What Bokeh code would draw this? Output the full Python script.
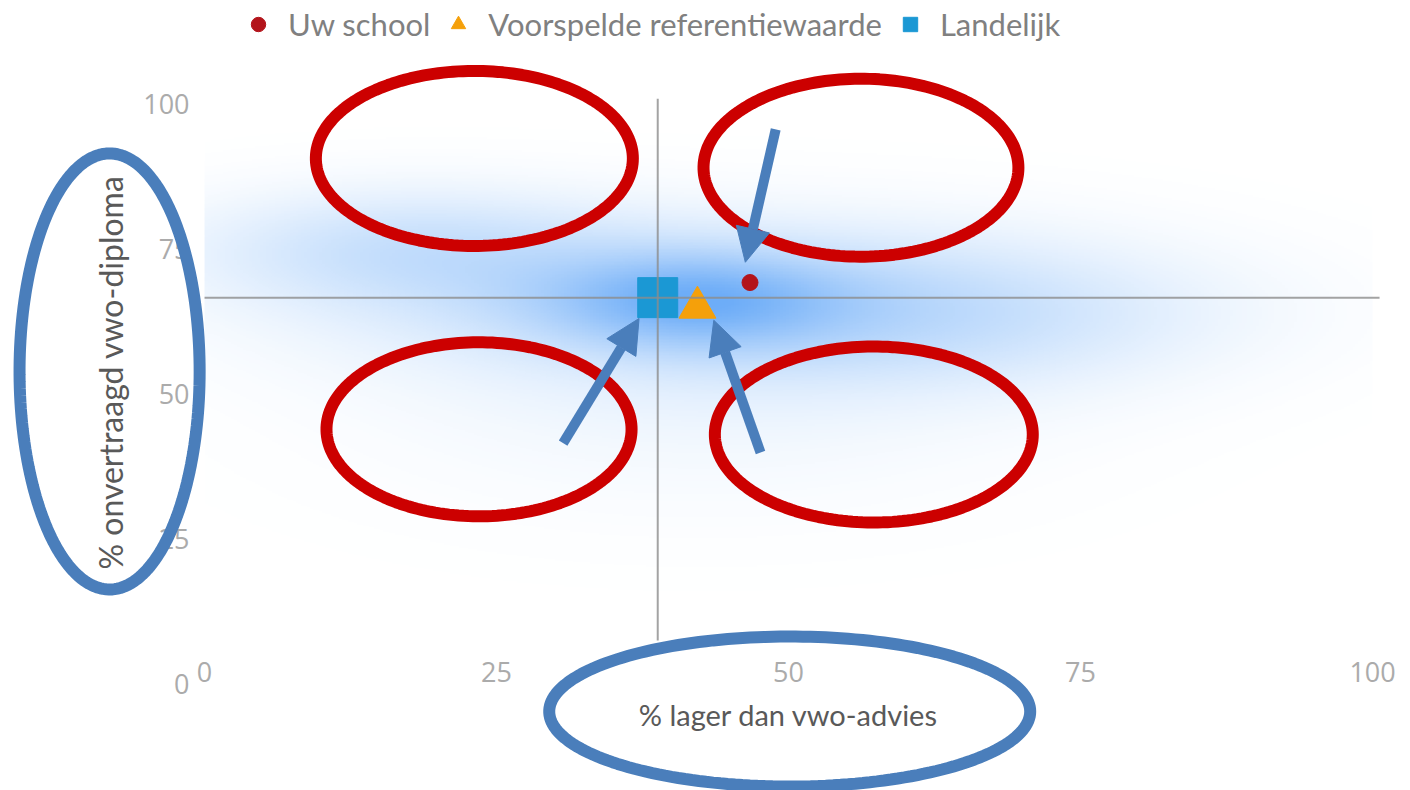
import numpy as np
from bokeh.plotting import figure
from bokeh.models import (Range1d, Legend, LegendItem, PolyAnnotation, Arrow,
                          NormalHead, FixedTicker, ColumnDataSource, LinearAxis)
from bokeh.embed import file_html
from bokeh.resources import INLINE

# ---------------- data ----------------
series_names = ["Uw school", "Voorspelde referentiewaarde", "Landelijk"]
pct_lager_dan_vwo_advies = [46.7, 42.2, 38.8]      # x
pct_onvertraagd_vwo_diploma = [69.3, 65.0, 66.7]   # y
series_colors = ["#b3141b", "#f5a00a", "#1b98d4"]
series_markers = ["circle", "triangle", "square"]
series_sizes = [16, 37, 40]

x_ticks = [0, 25, 50, 75, 100]
y_ticks = [0, 25, 50, 75, 100]
x_title = "% lager dan vwo-advies"
y_title = "% onvertraagd vwo-diploma"

# density haze behind the points (blob centres / spreads / weights)
haze_x = [41.6, 44.0, 16.8, 65.0, 42.5]
haze_y = [66.2, 66.2, 75.5, 62.8, 49.0]
haze_sx = [8.5, 22.5, 12.8, 15.5, 21.0]
haze_sy = [5.5, 9.5, 7.0, 8.6, 13.8]
haze_w = [0.40, 0.28, 0.22, 0.14, 0.07]

# crosshair extents (through "Landelijk")
cross_x_extent = [0, 100.6]
cross_y_extent = [7.6, 101]

# annotation overlay: ellipses (cx, cy, rx, ry) in data units, arrows (x0, y0, x1, y1)
red_ellipses = [(23.1, 90.7, 13.57, 15.09), (56.2, 89.1, 13.48, 15.34),
                (23.5, 44.0, 13.06, 15.0), (57.3, 43.1, 13.61, 15.17)]
blue_ellipses = [(-8.13, 53.97, 7.71, 37.59), (50.1, -4.66, 20.59, 12.93)]
arrows = [(48.9, 95.7, 46.3, 72.8), (30.7, 41.6, 37.2, 63.1), (47.6, 40.0, 43.6, 62.8)]

FONT = "Lato"
TICKFONT = "Open Sans"

# the plotting frame fills the whole canvas so that the overlay shapes are not clipped;
# the axes are drawn at fixed locations (x = 0, y = 0) inside it
p = figure(width=1410, height=790, x_range=Range1d(-17.47, 103.25), y_range=Range1d(-18.28, 117.93),
           output_backend="svg", toolbar_location=None, x_axis_location=None, y_axis_location=None,
           min_border=0, min_border_left=0, min_border_right=0, min_border_top=0, min_border_bottom=0)
p.title.visible = False
p.outline_line_color = None
p.grid.visible = False
p.background_fill_color = "white"
p.border_fill_color = "white"

# haze image
gx = np.linspace(0, 100, 400)
gy = np.linspace(0, 100, 400)
GX, GY = np.meshgrid(gx, gy)
dens = np.zeros_like(GX)
for cx, cy, sx, sy, w in zip(haze_x, haze_y, haze_sx, haze_sy, haze_w):
    dens += w * np.exp(-0.5 * (((GX - cx) / sx) ** 2 + ((GY - cy) / sy) ** 2))
alpha = np.clip(dens, 0, 0.75)
img = np.zeros(GX.shape, dtype=np.uint32)
view = img.view(dtype=np.uint8).reshape(GX.shape + (4,))
view[..., 0] = 60
view[..., 1] = 145
view[..., 2] = 245
view[..., 3] = (alpha * 255).astype(np.uint8)
p.image_rgba(image=[img], x=0, y=0, dw=100, dh=100)

renderers = []
for i in range(3):
    src = ColumnDataSource(dict(x=[pct_lager_dan_vwo_advies[i]], y=[pct_onvertraagd_vwo_diploma[i]]))
    r = p.scatter("x", "y", source=src, marker=series_markers[i], size=series_sizes[i],
                  fill_color=series_colors[i], line_color=series_colors[i], line_width=1)
    renderers.append(r)

# crosshair
lx, ly = pct_lager_dan_vwo_advies[2], pct_onvertraagd_vwo_diploma[2]
p.line(x=cross_x_extent, y=[ly, ly], line_color="#8c8c8c", line_width=2, line_alpha=0.8)
p.line(x=[lx, lx], y=cross_y_extent, line_color="#8c8c8c", line_width=2, line_alpha=0.8)

# axes
xaxis = LinearAxis(fixed_location=0, bounds=(0, 100), ticker=FixedTicker(ticks=x_ticks), axis_label=x_title)
yaxis = LinearAxis(fixed_location=0, bounds=(0, 107.5), ticker=FixedTicker(ticks=y_ticks), axis_label=y_title)
for ax in (xaxis, yaxis):
    ax.axis_line_color = None
    ax.major_tick_line_color = None
    ax.minor_tick_line_color = None
    ax.major_label_text_font = TICKFONT
    ax.major_label_text_font_size = "27px"
    ax.major_label_text_color = "#ababab"
    ax.axis_label_text_font = FONT
    ax.axis_label_text_font_style = "normal"
    ax.axis_label_text_color = "#595959"
xaxis.major_label_standoff = -28
xaxis.axis_label_standoff = 11
xaxis.axis_label_text_font_size = "29px"
yaxis.major_label_standoff = 9
yaxis.axis_label_standoff = 10
yaxis.axis_label_text_font_size = "32px"
p.add_layout(xaxis, "below")
p.add_layout(yaxis, "left")

legend = Legend(items=[LegendItem(label=series_names[i], renderers=[renderers[i]]) for i in range(3)],
                orientation="horizontal", location=(240, 747),
                glyph_width=36, glyph_height=36, label_standoff=12, spacing=10,
                padding=0, margin=0, border_line_alpha=0, background_fill_alpha=0,
                label_text_font=FONT, label_text_font_size="31px", label_text_color="#808080")
p.add_layout(legend)

# overlay annotations
t = np.linspace(0, 2 * np.pi, 200)
for (cx, cy, rx, ry), col in [(e, "#cc0000") for e in red_ellipses] + [(e, "#4a7ebb") for e in blue_ellipses]:
    p.add_layout(PolyAnnotation(xs=list(cx + rx * np.cos(t)), ys=list(cy + ry * np.sin(t)),
                                fill_alpha=0, line_color=col, line_alpha=1.0, line_width=12))
for x0, y0, x1, y1 in arrows:
    p.add_layout(Arrow(x_start=x0, y_start=y0, x_end=x1, y_end=y1, line_color="#4a7ebb", line_width=10,
                       end=NormalHead(size=34, fill_color="#4a7ebb", line_color="#4a7ebb", line_width=1)))

open("out.html", "w").write(file_html(p, INLINE))
